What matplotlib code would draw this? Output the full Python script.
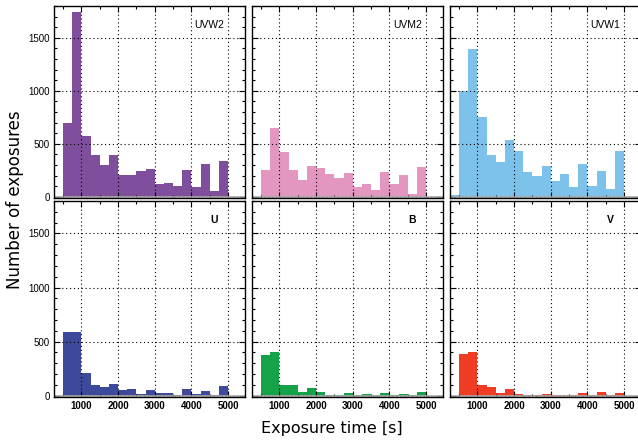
import matplotlib
matplotlib.use("Agg")
import matplotlib.pyplot as plt
from matplotlib.ticker import MultipleLocator, FixedLocator

# ---- data: histogram counts per 250 s bin (bin 250-500 first) ----
bin_edges = [250, 500, 750, 1000, 1250, 1500, 1750, 2000, 2250, 2500, 2750,
             3000, 3250, 3500, 3750, 4000, 4250, 4500, 4750, 5000]

uvw2 = [0, 700, 1740, 570, 390, 295, 390, 203, 203, 241, 259,
        119, 128, 100, 250, 91, 306, 53, 334]
uvm2 = [0, 250, 653, 419, 250, 156, 288, 269, 213, 175, 222,
        91, 119, 63, 231, 119, 203, 25, 278]
uvw1 = [15, 994, 1394, 756, 391, 325, 531, 428, 231, 194, 288,
        147, 213, 91, 306, 100, 241, 72, 428]
u_band = [0, 587, 587, 214, 102, 84, 112, 56, 65, 19, 56,
          28, 28, 3, 65, 19, 47, 9, 93]
b_band = [0, 373, 401, 102, 102, 37, 75, 37, 9, 5, 28,
          9, 19, 5, 28, 9, 19, 9, 37]
v_band = [0, 382, 401, 102, 84, 28, 65, 19, 4, 4, 19,
          4, 4, 4, 28, 9, 37, 4, 28]

filters = ["UVW2", "UVM2", "UVW1", "U", "B", "V"]
series = [uvw2, uvm2, uvw1, u_band, b_band, v_band]
colors = ["#7F4F9E", "#E296C0", "#7DC2EA", "#3D4A9C", "#15A349", "#EE3C25"]

x_ticks = [1000, 2000, 3000, 4000, 5000]
x_tick_labels = ["1000", "2000", "3000", "4000", "5000"]
y_ticks = [0, 500, 1000, 1500]
y_tick_labels = ["0", "500", "1000", "1500"]

# ---- layout ----
W, H = 638, 441
fig = plt.figure(figsize=(W / 100, H / 100), dpi=100)

col_left = [54, 252, 450]
col_width = 191
row_top = [6, 201]
row_bottom = [198, 397]

tick_font = "Liberation Sans"

for i, (name, vals, col) in enumerate(zip(filters, series, colors)):
    r, c = divmod(i, 3)
    left = col_left[c] / W
    bottom = 1 - row_bottom[r] / H
    height = (row_bottom[r] - row_top[r]) / H
    ax = fig.add_axes([left, bottom, col_width / W, height])
    ax.stairs(vals, bin_edges, fill=True, color=col, lw=0, zorder=2)
    ax.axhline(0, color="#aaaaaa", lw=1.2, zorder=3)
    ax.set_xlim(250, 5465)
    ax.set_ylim(-12, 1800)

    ax.xaxis.set_major_locator(FixedLocator(x_ticks))
    ax.yaxis.set_major_locator(FixedLocator(y_ticks))
    ax.yaxis.set_minor_locator(MultipleLocator(100))
    ax.xaxis.set_minor_locator(MultipleLocator(500))
    ax.tick_params(which="both", direction="in", top=True, right=True,
                   labelsize=7, color="black", pad=3)
    ax.tick_params(which="major", length=4, width=0.8)
    ax.tick_params(which="minor", length=2, width=0.8)
    ax.grid(True, which="major", color="black", linestyle=(0, (1, 2.5)),
            linewidth=0.8, zorder=1)
    ax.set_axisbelow(False)
    for s in ax.spines.values():
        s.set_linewidth(1.0)
        s.set_zorder(4)

    if r == 1:
        ax.set_xticklabels(x_tick_labels, fontweight="bold", family=tick_font)
    else:
        ax.set_xticklabels([])
    if c == 0:
        ax.set_yticklabels(y_tick_labels, family=tick_font)
    else:
        ax.set_yticklabels([])

    lx = 4500 if r == 0 else 4620
    ax.text(lx, 1625, name, ha="center", va="center", fontsize=7.5,
            family=tick_font, fontweight="normal" if r == 0 else "bold",
            zorder=5)

fig.text(15 / W, 1 - 200 / H, "Number of exposures", rotation=90,
         ha="center", va="center", fontsize=12)
fig.text(332 / W, 1 - 428 / H, "Exposure time [s]", ha="center",
         va="center", fontsize=11.5)

fig.savefig("out.png", dpi=100)
